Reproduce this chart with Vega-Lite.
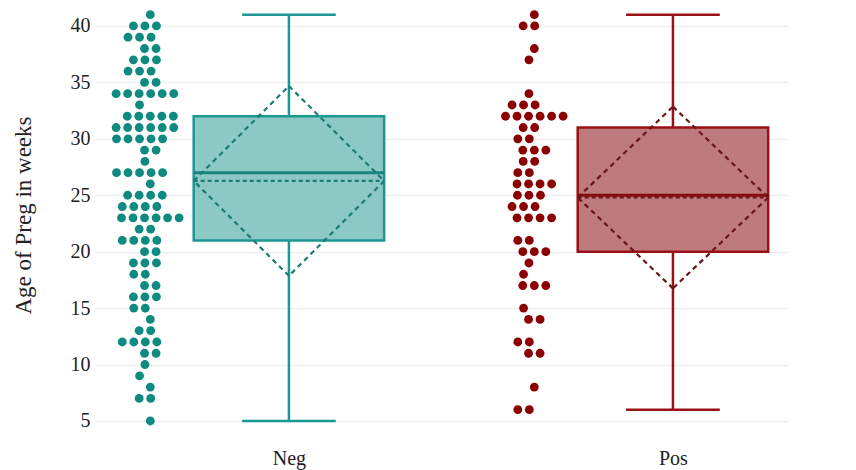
{
  "$schema": "https://vega.github.io/schema/vega-lite/v6.json",
  "autosize": "none",
  "width": 692,
  "height": 430,
  "padding": {"left": 95, "top": 0, "right": 69, "bottom": 40},
  "background": "white",
  "config": {
    "view": {"stroke": null},
    "font": "Liberation Serif",
    "axisX": {"grid": false, "domain": false, "ticks": false, "labelFont": "Liberation Serif",
              "labelFontSize": 20, "labelColor": "#222222", "labelPadding": 18},
    "axisY": {"titleFont": "Liberation Serif", "titleFontSize": 23, "titleFontWeight": "normal",
              "titleColor": "#222222", "titlePadding": 35,
              "labelFont": "Liberation Serif", "labelFontSize": 20, "labelColor": "#222222",
              "labelPadding": 5, "domain": false, "ticks": false,
              "grid": true, "gridColor": "#eeeeee", "gridWidth": 1.5}
  },
  "datasets": {
    "pts": [
      {"g":"Neg","w":41},
      {"g":"Neg","w":40},{"g":"Neg","w":40},{"g":"Neg","w":40},
      {"g":"Neg","w":39},{"g":"Neg","w":39},{"g":"Neg","w":39},
      {"g":"Neg","w":38},{"g":"Neg","w":38},
      {"g":"Neg","w":37},{"g":"Neg","w":37},{"g":"Neg","w":37},
      {"g":"Neg","w":36},{"g":"Neg","w":36},{"g":"Neg","w":36},
      {"g":"Neg","w":35},{"g":"Neg","w":35},
      {"g":"Neg","w":34},{"g":"Neg","w":34},{"g":"Neg","w":34},{"g":"Neg","w":34},{"g":"Neg","w":34},{"g":"Neg","w":34},
      {"g":"Neg","w":33},
      {"g":"Neg","w":32},{"g":"Neg","w":32},{"g":"Neg","w":32},{"g":"Neg","w":32},{"g":"Neg","w":32},
      {"g":"Neg","w":31},{"g":"Neg","w":31},{"g":"Neg","w":31},{"g":"Neg","w":31},{"g":"Neg","w":31},{"g":"Neg","w":31},
      {"g":"Neg","w":30},{"g":"Neg","w":30},{"g":"Neg","w":30},{"g":"Neg","w":30},{"g":"Neg","w":30},
      {"g":"Neg","w":29},{"g":"Neg","w":29},
      {"g":"Neg","w":28},
      {"g":"Neg","w":27},{"g":"Neg","w":27},{"g":"Neg","w":27},{"g":"Neg","w":27},{"g":"Neg","w":27},
      {"g":"Neg","w":26},
      {"g":"Neg","w":25},{"g":"Neg","w":25},{"g":"Neg","w":25},{"g":"Neg","w":25},
      {"g":"Neg","w":24},{"g":"Neg","w":24},{"g":"Neg","w":24},{"g":"Neg","w":24},
      {"g":"Neg","w":23},{"g":"Neg","w":23},{"g":"Neg","w":23},{"g":"Neg","w":23},{"g":"Neg","w":23},{"g":"Neg","w":23},
      {"g":"Neg","w":22},{"g":"Neg","w":22},
      {"g":"Neg","w":21},{"g":"Neg","w":21},{"g":"Neg","w":21},{"g":"Neg","w":21},
      {"g":"Neg","w":20},{"g":"Neg","w":20},
      {"g":"Neg","w":19},{"g":"Neg","w":19},{"g":"Neg","w":19},
      {"g":"Neg","w":18},{"g":"Neg","w":18},
      {"g":"Neg","w":17},{"g":"Neg","w":17},
      {"g":"Neg","w":16},{"g":"Neg","w":16},{"g":"Neg","w":16},
      {"g":"Neg","w":15},{"g":"Neg","w":15},
      {"g":"Neg","w":14},
      {"g":"Neg","w":13},{"g":"Neg","w":13},
      {"g":"Neg","w":12},{"g":"Neg","w":12},{"g":"Neg","w":12},{"g":"Neg","w":12},
      {"g":"Neg","w":11},{"g":"Neg","w":11},
      {"g":"Neg","w":10},
      {"g":"Neg","w":9},
      {"g":"Neg","w":8},
      {"g":"Neg","w":7},{"g":"Neg","w":7},
      {"g":"Neg","w":5},
      {"g":"Pos","w":41},
      {"g":"Pos","w":40},{"g":"Pos","w":40},
      {"g":"Pos","w":38},
      {"g":"Pos","w":37},
      {"g":"Pos","w":34},
      {"g":"Pos","w":33},{"g":"Pos","w":33},{"g":"Pos","w":33},
      {"g":"Pos","w":32},{"g":"Pos","w":32},{"g":"Pos","w":32},{"g":"Pos","w":32},{"g":"Pos","w":32},{"g":"Pos","w":32},
      {"g":"Pos","w":31},{"g":"Pos","w":31},
      {"g":"Pos","w":30},{"g":"Pos","w":30},
      {"g":"Pos","w":29},{"g":"Pos","w":29},{"g":"Pos","w":29},
      {"g":"Pos","w":28},{"g":"Pos","w":28},
      {"g":"Pos","w":27},{"g":"Pos","w":27},
      {"g":"Pos","w":26},{"g":"Pos","w":26},{"g":"Pos","w":26},{"g":"Pos","w":26},
      {"g":"Pos","w":25},{"g":"Pos","w":25},{"g":"Pos","w":25},
      {"g":"Pos","w":24},{"g":"Pos","w":24},{"g":"Pos","w":24},
      {"g":"Pos","w":23},{"g":"Pos","w":23},{"g":"Pos","w":23},{"g":"Pos","w":23},
      {"g":"Pos","w":21},{"g":"Pos","w":21},
      {"g":"Pos","w":20},{"g":"Pos","w":20},{"g":"Pos","w":20},
      {"g":"Pos","w":19},
      {"g":"Pos","w":18},
      {"g":"Pos","w":17},{"g":"Pos","w":17},{"g":"Pos","w":17},
      {"g":"Pos","w":15},
      {"g":"Pos","w":14},{"g":"Pos","w":14},
      {"g":"Pos","w":12},{"g":"Pos","w":12},
      {"g":"Pos","w":11},{"g":"Pos","w":11},
      {"g":"Pos","w":8},
      {"g":"Pos","w":6},{"g":"Pos","w":6}
    ],
    "stats": [
      {"g":"Neg","min":5,"q1":21,"med":27,"q3":32,"max":41,"mean":26.27,"sd":8.41},
      {"g":"Pos","min":6,"q1":20,"med":25,"q3":31,"max":41,"mean":24.8,"sd":8.05}
    ]
  },
  "layer": [
    {
      "data": {"name": "pts"},
      "transform": [
        {"window": [{"op": "row_number", "as": "k"}], "groupby": ["g", "w"]},
        {"joinaggregate": [{"op": "count", "as": "n"}], "groupby": ["g", "w"]},
        {"calculate": "(datum.g === 'Neg' ? 0 : 1) - 0.375 + (datum.k - (datum.n + 1) / 2) * 0.03 + ((datum.w % 3) - 1) * 0.014", "as": "jx"}
      ],
      "mark": {"type": "point", "filled": true, "shape": "circle", "size": 78, "opacity": 1},
      "encoding": {
        "x": {"field": "jx", "type": "quantitative",
              "scale": {"domain": [-0.505, 1.297], "nice": false, "zero": false},
              "axis": {"values": [0, 1], "labelExpr": "datum.value === 0 ? 'Neg' : 'Pos'", "title": null}},
        "y": {"field": "w", "type": "quantitative",
              "scale": {"domain": [4.2, 42.3], "nice": false, "zero": false},
              "axis": {"values": [5, 10, 15, 20, 25, 30, 35, 40], "title": "Age of Preg in weeks"}},
        "color": {"condition": {"test": "datum.g === 'Neg'", "value": "#0e8a80"}, "value": "#8b0000"}
      }
    },
    {
      "data": {"name": "stats"},
      "transform": [
        {"calculate": "datum.g === 'Neg' ? 0 : 1", "as": "c"},
        {"calculate": "datum.c - 0.248", "as": "xl"},
        {"calculate": "datum.c + 0.248", "as": "xr"},
        {"calculate": "datum.c - 0.122", "as": "cl"},
        {"calculate": "datum.c + 0.122", "as": "cr"},
        {"calculate": "datum.mean + datum.sd", "as": "mtop"},
        {"calculate": "datum.mean - datum.sd", "as": "mbot"}
      ],
      "layer": [
        {
          "mark": {"type": "rule", "strokeWidth": 2.5},
          "encoding": {
            "x": {"field": "c", "type": "quantitative"},
            "y": {"field": "q3", "type": "quantitative"},
            "y2": {"field": "max"},
            "color": {"condition": {"test": "datum.g === 'Neg'", "value": "#1a9893"}, "value": "#9a1016"}
          }
        },
        {
          "mark": {"type": "rule", "strokeWidth": 2.5},
          "encoding": {
            "x": {"field": "c", "type": "quantitative"},
            "y": {"field": "min", "type": "quantitative"},
            "y2": {"field": "q1"},
            "color": {"condition": {"test": "datum.g === 'Neg'", "value": "#1a9893"}, "value": "#9a1016"}
          }
        },
        {
          "mark": {"type": "rule", "strokeWidth": 2.5},
          "encoding": {
            "x": {"field": "cl", "type": "quantitative"},
            "x2": {"field": "cr"},
            "y": {"field": "max", "type": "quantitative"},
            "color": {"condition": {"test": "datum.g === 'Neg'", "value": "#1a9893"}, "value": "#9a1016"}
          }
        },
        {
          "mark": {"type": "rule", "strokeWidth": 2.5},
          "encoding": {
            "x": {"field": "cl", "type": "quantitative"},
            "x2": {"field": "cr"},
            "y": {"field": "min", "type": "quantitative"},
            "color": {"condition": {"test": "datum.g === 'Neg'", "value": "#1a9893"}, "value": "#9a1016"}
          }
        },
        {
          "mark": {"type": "rect", "strokeWidth": 2.5},
          "encoding": {
            "x": {"field": "xl", "type": "quantitative"},
            "x2": {"field": "xr"},
            "y": {"field": "q1", "type": "quantitative"},
            "y2": {"field": "q3"},
            "fill": {"condition": {"test": "datum.g === 'Neg'", "value": "#8cc8c4"}, "value": "#bd7b7e"},
            "stroke": {"condition": {"test": "datum.g === 'Neg'", "value": "#1a9893"}, "value": "#9a1016"}
          }
        },
        {
          "mark": {"type": "rule", "strokeWidth": 3},
          "encoding": {
            "x": {"field": "xl", "type": "quantitative"},
            "x2": {"field": "xr"},
            "y": {"field": "med", "type": "quantitative"},
            "color": {"condition": {"test": "datum.g === 'Neg'", "value": "#17867f"}, "value": "#8b0a10"}
          }
        },
        {
          "mark": {"type": "rule", "strokeWidth": 2.2, "strokeDash": [4, 3]},
          "encoding": {
            "x": {"field": "xl", "type": "quantitative"},
            "x2": {"field": "xr"},
            "y": {"field": "mean", "type": "quantitative"},
            "color": {"condition": {"test": "datum.g === 'Neg'", "value": "#1e7a74"}, "value": "#6a1519"}
          }
        },
        {
          "mark": {"type": "rule", "strokeWidth": 2.2, "strokeDash": [5, 4]},
          "encoding": {
            "x": {"field": "xl", "type": "quantitative"},
            "x2": {"field": "c"},
            "y": {"field": "mean", "type": "quantitative"},
            "y2": {"field": "mtop"},
            "color": {"condition": {"test": "datum.g === 'Neg'", "value": "#1e7a74"}, "value": "#6a1519"}
          }
        },
        {
          "mark": {"type": "rule", "strokeWidth": 2.2, "strokeDash": [5, 4]},
          "encoding": {
            "x": {"field": "c", "type": "quantitative"},
            "x2": {"field": "xr"},
            "y": {"field": "mtop", "type": "quantitative"},
            "y2": {"field": "mean"},
            "color": {"condition": {"test": "datum.g === 'Neg'", "value": "#1e7a74"}, "value": "#6a1519"}
          }
        },
        {
          "mark": {"type": "rule", "strokeWidth": 2.2, "strokeDash": [5, 4]},
          "encoding": {
            "x": {"field": "xr", "type": "quantitative"},
            "x2": {"field": "c"},
            "y": {"field": "mean", "type": "quantitative"},
            "y2": {"field": "mbot"},
            "color": {"condition": {"test": "datum.g === 'Neg'", "value": "#1e7a74"}, "value": "#6a1519"}
          }
        },
        {
          "mark": {"type": "rule", "strokeWidth": 2.2, "strokeDash": [5, 4]},
          "encoding": {
            "x": {"field": "c", "type": "quantitative"},
            "x2": {"field": "xl"},
            "y": {"field": "mbot", "type": "quantitative"},
            "y2": {"field": "mean"},
            "color": {"condition": {"test": "datum.g === 'Neg'", "value": "#1e7a74"}, "value": "#6a1519"}
          }
        }
      ]
    }
  ]
}
